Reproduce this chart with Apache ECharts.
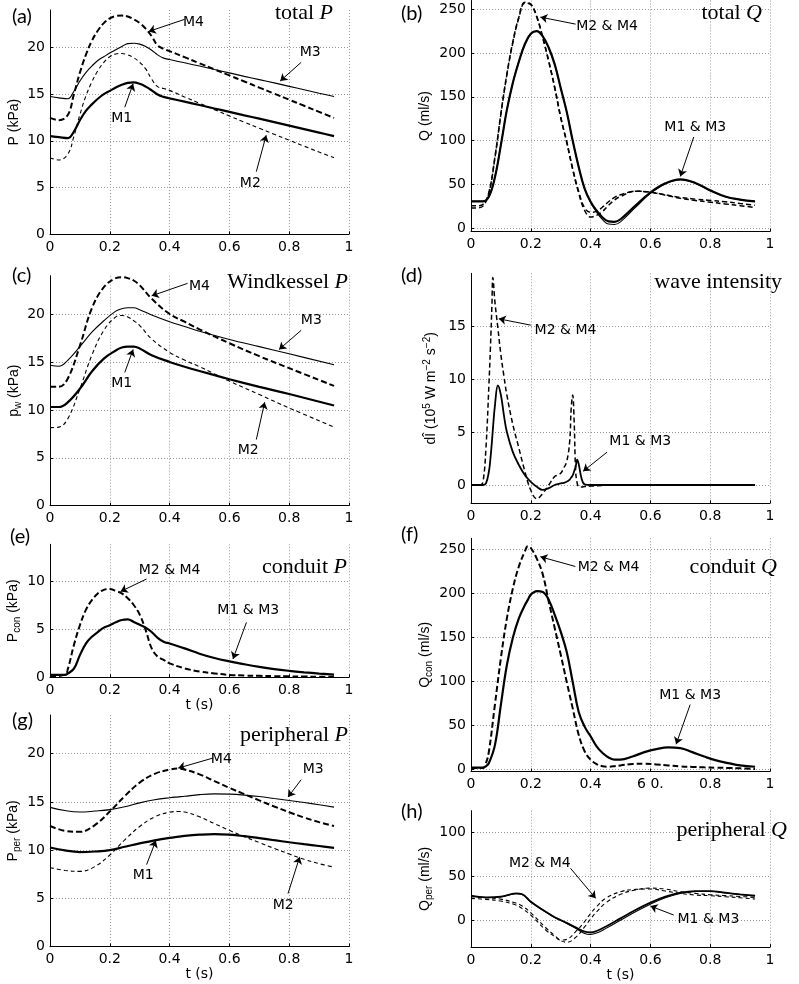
<!DOCTYPE html>
<html><head><meta charset="utf-8">
<script src="https://cdn.jsdelivr.net/npm/echarts@6/dist/echarts.min.js"></script>
<style>html,body{margin:0;padding:0;background:#fff}#c{width:799px;height:984px}</style>
</head><body><div id="c"></div>
<script>
// ---------- tick labels ----------
const xTicks = [0, 0.2, 0.4, 0.6, 0.8, 1];
const xLabels = ['0', '0.2', '0.4', '0.6', '0.8', '1'];
const xLabelsF = ['0', '0.2', '0.4', '6 0.', '0.8', '1'];
const yTicksP = [0, 5, 10, 15, 20];
const yTicksQ = [0, 50, 100, 150, 200, 250];
const yTicksD = [0, 5, 10, 15];
const yTicksE = [0, 5, 10];
const yTicksH = [0, 50, 100];

// ---------- (a) total P ----------
const tA = [0,0.03,0.06,0.08,0.1,0.12,0.14,0.16,0.18,0.2,0.22,0.24,0.26,0.28,0.3,0.32,0.34,0.36,0.38,0.4,0.45,0.5,0.55,0.6,0.65,0.7,0.75,0.8,0.85,0.9,0.95];
const aM1 = [10.5,10.4,10.3,11.0,12.2,13.2,13.9,14.5,15.0,15.35,15.7,16.0,16.2,16.25,16.1,15.8,15.4,14.95,14.7,14.55,14.2,13.83,13.46,13.1,12.73,12.37,12.0,11.63,11.26,10.88,10.5];
const aM2 = [8.2,7.95,8.6,10.5,12.8,14.8,16.3,17.5,18.4,19.0,19.3,19.35,19.2,18.9,18.4,17.7,16.6,15.8,15.6,15.4,14.7,14.02,13.34,12.66,12.0,11.35,10.7,10.06,9.43,8.8,8.2];
const aM3 = [14.75,14.6,14.5,15.3,16.4,17.3,18.0,18.6,19.0,19.4,19.75,20.1,20.4,20.45,20.35,20.1,19.7,19.2,18.85,18.7,18.35,18.0,17.63,17.27,16.9,16.55,16.2,15.83,15.47,15.1,14.75];
const aM4 = [12.45,12.2,12.8,15.0,17.3,19.2,20.7,21.8,22.6,23.1,23.35,23.4,23.3,23.0,22.6,22.0,21.2,20.2,19.85,19.6,18.95,18.3,17.65,17.0,16.35,15.7,15.05,14.4,13.75,13.1,12.45];
const annA = [
  {label:'M4', pos:[0.48,22.7], from:[0.45,23.0], to:[0.33,21.7]},
  {label:'M3', pos:[0.87,19.5], from:[0.84,18.4], to:[0.77,16.4]},
  {label:'M1', pos:[0.24,12.4], from:[0.25,13.6], to:[0.278,16.1]},
  {label:'M2', pos:[0.67,5.5], from:[0.69,6.7], to:[0.723,10.6]}
];

// ---------- (b) total Q ----------
const tB = [0,0.02,0.04,0.06,0.08,0.1,0.12,0.14,0.16,0.18,0.2,0.22,0.24,0.26,0.28,0.3,0.32,0.34,0.36,0.38,0.4,0.42,0.44,0.46,0.48,0.5,0.55,0.6,0.65,0.7,0.75,0.8,0.85,0.9,0.95];
const bM1 = [30.5,30.5,30.5,36,58,95,135,166,190,210,222,225,219,206,187,160,133,100,70,45,30,20,12,7.5,7,10,25.5,40.5,51,55.6,51.5,43,36,32.5,30.5];
const bM3 = [30.5,30.5,30.5,36,58,95,135,166,190,210,222,225,219,206,187,160,133,100,70,45,29,18,9.5,4.5,4,7,23.5,39.5,50.5,55.2,51.2,42.8,35.8,32.3,30.3];
const bM2 = [23,23,25,40,80,130,175,212,240,257,255,241,217,190,160,126,98,67,40,20,12.5,14.5,19,26,32,36,42,41,37.5,34,31.5,29.5,27.5,25.5,23.5];
const bM4 = [25.5,25.5,27,41,81,131,176,213,241,258,256,242,218,191,161,127,99,68,42,23,18,19,24,30,35,38,42,41,38,35,33,31.5,30,28,26];
const annB = [
  {label:'M2 & M4', pos:[0.455,231], from:[0.35,233], to:[0.232,241]},
  {label:'M1 & M3', pos:[0.75,115], from:[0.745,104], to:[0.7,59]}
];

// ---------- (c) Windkessel P ----------
const tC = [0,0.03,0.06,0.1,0.14,0.18,0.22,0.24,0.26,0.28,0.3,0.34,0.4,0.45,0.5,0.6,0.7,0.8,0.95];
const cM1 = [10.3,10.3,10.8,12.2,14.0,15.35,16.2,16.5,16.6,16.6,16.4,15.7,15.0,14.5,14.05,13.2,12.4,11.65,10.45];
const cM2 = [8.15,8.2,9.1,12.2,15.7,18.3,19.7,19.85,19.7,19.3,18.8,17.4,16.0,15.2,14.5,13.0,11.6,10.2,8.2];
const cM3 = [14.65,14.55,15.2,16.6,18.1,19.3,20.3,20.55,20.65,20.65,20.45,19.9,19.2,18.7,18.2,17.35,16.6,15.85,14.7];
const cM4 = [12.4,12.4,13.3,16.7,20.6,22.8,23.75,23.85,23.75,23.5,23.0,21.6,20.0,19.2,18.4,16.95,15.6,14.35,12.5];
const annC = [
  {label:'M4', pos:[0.5,22.9], from:[0.46,23.2], to:[0.34,21.9]},
  {label:'M3', pos:[0.874,19.3], from:[0.84,18.3], to:[0.766,16.3]},
  {label:'M1', pos:[0.24,12.8], from:[0.25,13.9], to:[0.278,16.3]},
  {label:'M2', pos:[0.663,5.8], from:[0.69,6.9], to:[0.718,10.8]}
];

// ---------- (d) wave intensity ----------
const tD = [0,0.03,0.04,0.05,0.06,0.065,0.07,0.073,0.08,0.09,0.1,0.11,0.12,0.14,0.16,0.18,0.2,0.22,0.24,0.26,0.28,0.29,0.3,0.31,0.32,0.33,0.335,0.34,0.345,0.35,0.355,0.36,0.37,0.38,0.4,0.5,0.6,0.7,0.8,0.95];
const dDash = [0,0,0.3,3.5,9.5,13,17,19.6,17.3,14.8,12.3,10.3,8.5,5.7,3.5,1.3,-0.5,-1.3,-0.8,0,0.8,0.94,1.1,1.6,2.2,4.1,7.2,8.5,6,1.3,0.2,-0.15,-0.2,-0.15,-0.1,0,0,0,0,0];
const dSolid = [0,0,0,0.15,1.3,2.5,4.1,5.2,7.5,9.4,8.5,6.6,5.0,3.1,1.9,0.94,0.3,-0.16,-0.47,-0.3,0,0.08,0.15,0.2,0.3,0.5,0.7,0.9,1.3,1.7,2.4,2.0,0.6,0.06,0,0,0,0,0,0];
const annD = [
  {label:'M2 & M4', pos:[0.316,14.65], from:[0.2,15.1], to:[0.093,15.7]},
  {label:'M1 & M3', pos:[0.566,4.1], from:[0.455,3.1], to:[0.375,1.3]}
];

// ---------- (e) conduit P ----------
const tE = [0,0.05,0.06,0.08,0.1,0.12,0.14,0.16,0.18,0.2,0.22,0.24,0.26,0.28,0.3,0.32,0.34,0.36,0.38,0.4,0.45,0.5,0.55,0.6,0.65,0.7,0.75,0.8,0.85,0.9,0.95];
const eSolid = [0.25,0.25,0.4,0.9,2.3,3.5,4.2,4.7,5.15,5.4,5.7,5.95,6.0,5.75,5.45,5.15,4.7,4.1,3.7,3.5,3.0,2.45,2.0,1.65,1.35,1.08,0.85,0.67,0.52,0.39,0.28];
const eDash = [0.1,0.25,0.9,3.35,5.4,7.0,8.0,8.7,9.07,9.17,8.96,8.7,8.2,7.5,6.5,4.9,3.0,2.15,1.8,1.45,0.93,0.6,0.4,0.25,0.18,0.15,0.12,0.1,0.08,0.06,0.05];
const annE = [
  {label:'M2 & M4', pos:[0.4,11.1], from:[0.323,10.2], to:[0.236,8.9]},
  {label:'M1 & M3', pos:[0.663,6.9], from:[0.657,5.7], to:[0.612,1.9]}
];

// ---------- (f) conduit Q ----------
const tF = [0,0.04,0.05,0.06,0.08,0.1,0.12,0.14,0.16,0.18,0.19,0.2,0.22,0.24,0.26,0.28,0.3,0.32,0.34,0.36,0.38,0.4,0.42,0.44,0.46,0.48,0.5,0.54,0.58,0.62,0.66,0.7,0.74,0.78,0.82,0.86,0.9,0.95];
const fSolid = [2.5,2.5,4,7.6,28,74,119,150,172,187,193,199,203,202,193,176,157,134,100,66,49,38,26.5,19,14,11.4,11.4,15,20,23.5,25.4,24.6,20,15,10.6,7.6,4.9,3.4];
const fDash = [2,2,7.6,21,74,127,172,206,231,248,254,252,240,222,191,161,131,100,70,40,21,11.4,6.4,4,3.5,4,4.9,6.5,6.8,6,4.9,3.8,3.2,2.7,2.3,2,1.6,0.8];
const annF = [
  {label:'M2 & M4', pos:[0.46,230], from:[0.349,231], to:[0.232,242]},
  {label:'M1 & M3', pos:[0.733,84.5], from:[0.733,74], to:[0.686,29]}
];

// ---------- (g) peripheral P ----------
const tG = [0,0.05,0.1,0.15,0.2,0.25,0.3,0.35,0.4,0.43,0.45,0.5,0.55,0.6,0.65,0.7,0.75,0.8,0.85,0.9,0.95];
const gM1 = [10.28,9.97,9.8,9.86,10.0,10.35,10.7,11.02,11.28,11.4,11.48,11.6,11.66,11.6,11.45,11.25,11.03,10.82,10.62,10.43,10.24];
const gM2 = [8.2,7.9,7.8,8.3,9.5,11.07,12.45,13.45,13.93,14.0,13.95,13.45,12.75,12.05,11.4,10.78,10.18,9.6,9.05,8.6,8.24];
const gM3 = [14.43,14.1,13.95,14.05,14.2,14.5,14.9,15.22,15.43,15.52,15.58,15.75,15.83,15.8,15.7,15.55,15.35,15.15,14.93,14.7,14.46];
const gM4 = [12.5,12.0,11.9,12.6,14.0,15.6,17.0,17.9,18.35,18.45,18.35,17.85,17.15,16.45,15.8,15.15,14.52,13.93,13.38,12.9,12.5];
const annG = [
  {label:'M4', pos:[0.573,19.4], from:[0.546,19.55], to:[0.429,18.5]},
  {label:'M3', pos:[0.88,18.4], from:[0.84,17.3], to:[0.796,15.5]},
  {label:'M1', pos:[0.312,7.44], from:[0.323,8.5], to:[0.354,11.0]},
  {label:'M2', pos:[0.78,4.3], from:[0.796,5.5], to:[0.835,9.3]}
];

// ---------- (h) peripheral Q ----------
const tH = [0,0.05,0.1,0.15,0.17,0.2,0.25,0.28,0.3,0.32,0.35,0.38,0.4,0.42,0.45,0.5,0.55,0.6,0.65,0.7,0.75,0.8,0.85,0.9,0.95];
const hM1 = [28.4,26.5,27.3,31,30.3,21.6,10.2,4,0.76,-2.5,-7.6,-12.5,-13.3,-11.7,-6.8,2.65,12.1,20.5,27.3,31.8,33.7,33.7,31.8,30,28.4];
const hM3 = [28.0,26.2,27.0,30.6,30.0,21.3,9.8,3.5,0.2,-3.2,-8.6,-14.5,-15.5,-14.0,-9.0,0.5,10.2,18.8,26.0,31.0,33.2,33.4,31.6,29.8,28.2];
const hM2 = [25.4,24.2,22.3,17.8,14,6.4,-10.6,-18,-22,-21.2,-12.5,-1,8.3,16,25.4,33,35.6,36,33.7,31,29.2,28.4,27.3,26.1,24.6];
const hM4 = [27.3,26,24.5,20,17,9,-8,-17,-22.5,-24.5,-19,-7,2,10,20,30,35,37,36,33,31,29.5,28.5,27.5,26.5];
const annH = [
  {label:'M2 & M4', pos:[0.23,65], from:[0.333,59.5], to:[0.417,25.4]},
  {label:'M1 & M3', pos:[0.794,1.5], from:[0.678,6.4], to:[0.6,16.7]}
];

// ---------- styling / layout ----------
const SANS = 'DejaVu Sans';
const NAMEFONT = 'Liberation Sans';
const SERIF = 'Liberation Serif';
const STY = {
  thick: {width: 2.2, type: 'solid'},
  thin: {width: 1.1, type: 'solid'},
  mid: {width: 1.8, type: 'solid'},
  thickDash: {width: 2.0, type: [6, 3]},
  thinDash: {width: 1.1, type: [4, 3]},
  dash: {width: 1.5, type: [5, 3]}
};

const panels = [
  {tag:'(a)', tagTop:7, tagLeft:12, title:'total {i|P}', tRight:466, tTop:2, grid:[50,10,299,224.3], y:[0,24], yTicks:yTicksP,
   yName:'{n|P (kPa)}', yGap:27, xName:'', xl:xLabels, t:tA, lines:[[aM1,'thick'],[aM2,'thinDash'],[aM3,'thin'],[aM4,'thickDash']], ann:annA},
  {tag:'(b)', tagTop:4, tagLeft:401, title:'total {i|Q}', tRight:37, tTop:2, grid:[471,0.5,299,231], y:[-4,260], yTicks:yTicksQ,
   yName:'{n|Q (ml/s)}', yGap:37, xName:'', xl:xLabels, t:tB, lines:[[bM1,'thick'],[bM3,'thin'],[bM2,'dash'],[bM4,'dash']], ann:annB},
  {tag:'(c)', tagTop:266, tagLeft:12, title:'Windkessel {i|P}', tRight:451, tTop:271, grid:[50,275.7,299,230], y:[0,24], yTicks:yTicksP,
   yName:'{n|p}{sub|w}{n| (kPa)}', yGap:27, xName:'', xl:xLabels, t:tC, lines:[[cM1,'thick'],[cM2,'thinDash'],[cM3,'thin'],[cM4,'thickDash']], ann:annC},
  {tag:'(d)', tagTop:266, tagLeft:401, title:'wave intensity', tRight:17, tTop:271, grid:[471,273.3,299,230], y:[-1.73,20], yTicks:yTicksD,
   yName:'{n|dÎ (10}{sup|5}{n| W m}{sup|−2}{n| s}{sup|−2}{n|)}', yGap:31, xName:'', xl:xLabels, t:tD, lines:[[dSolid,'mid'],[dDash,'dash']], ann:annD},
  {tag:'(e)', tagTop:527, tagLeft:10, title:'conduit {i|P}', tRight:452, tTop:556, grid:[50,544.3,299,133], y:[0,13.8], yTicks:yTicksE,
   yName:'{n|P}{sub|con}{n| (kPa)}', yGap:28, xName:'t (s)', xl:xLabels, t:tE, lines:[[eSolid,'thick'],[eDash,'thickDash']], ann:annE},
  {tag:'(f)', tagTop:525, tagLeft:401, title:'conduit {i|Q}', tRight:22, tTop:556, grid:[471,538.3,299,233.2], y:[-2,263], yTicks:yTicksQ,
   yName:'{n|Q}{sub|con}{n| (ml/s)}', yGap:37, xName:'', xl:xLabelsF, t:tF, lines:[[fSolid,'thick'],[fDash,'thickDash']], ann:annF},
  {tag:'(g)', tagTop:711, tagLeft:12, title:'peripheral {i|P}', tRight:451, tTop:724, grid:[50,715,299,231.7], y:[0,24], yTicks:yTicksP,
   yName:'{n|P}{sub|per}{n| (kPa)}', yGap:28, xName:'t (s)', xl:xLabels, t:tG, lines:[[gM1,'thick'],[gM2,'thinDash'],[gM3,'thin'],[gM4,'thickDash']], ann:annG},
  {tag:'(h)', tagTop:802, tagLeft:401, title:'peripheral {i|Q}', tRight:12, tTop:819, grid:[471,810.7,299,136.4], y:[-30,125], yTicks:yTicksH,
   yName:'{n|Q}{sub|per}{n| (ml/s)}', yGap:37, xName:'t (s)', xl:xLabels, t:tH, lines:[[hM1,'mid'],[hM3,'thin'],[hM2,'thinDash'],[hM4,'thinDash']], ann:annH}
];

const option = {animation: false, backgroundColor: '#fff', grid: [], xAxis: [], yAxis: [], series: [], title: []};
const dotted = {show: true, lineStyle: {color: '#9a9a9a', width: 1, type: [1, 2]}};

panels.forEach((p, i) => {
  option.grid.push({left: p.grid[0], top: p.grid[1], width: p.grid[2], height: p.grid[3], containLabel: false, outerBoundsMode: 'none'});
  const xl = p.xl;
  option.xAxis.push({
    type: 'value', gridIndex: i, min: 0, max: 1, interval: 0.2,
    axisLine: {show: true, onZero: false, lineStyle: {color: '#000', width: 1}},
    axisTick: {show: true, inside: true, length: 3, lineStyle: {color: '#000'}},
    axisLabel: {margin: 6, color: '#000', fontFamily: SANS, fontSize: 14,
      formatter: v => { const k = xTicks.findIndex(x => Math.abs(x - v) < 1e-6); return k >= 0 ? xl[k] : ''; }},
    splitLine: dotted,
    name: p.xName, nameLocation: 'middle', nameGap: 21,
    nameTextStyle: {color: '#000', fontFamily: SANS, fontSize: 14}
  });
  option.yAxis.push({
    type: 'value', gridIndex: i, min: p.y[0], max: p.y[1],
    axisLine: {show: true, onZero: false, lineStyle: {color: '#000', width: 1}},
    axisTick: {show: true, inside: true, length: 3, customValues: p.yTicks, lineStyle: {color: '#000'}},
    axisLabel: {margin: 5, color: '#000', fontFamily: SANS, fontSize: 14, customValues: p.yTicks},
    splitLine: dotted,
    name: p.yName, nameLocation: 'middle', nameGap: p.yGap, nameRotate: 90,
    nameTextStyle: {color: '#000', fontFamily: NAMEFONT, fontSize: 14,
      rich: {
        n: {fontFamily: NAMEFONT, fontSize: 14, color: '#000', lineHeight: 18},
        sub: {fontFamily: NAMEFONT, fontSize: 10, color: '#000', verticalAlign: 'bottom', lineHeight: 18},
        sup: {fontFamily: NAMEFONT, fontSize: 10, color: '#000', verticalAlign: 'top', lineHeight: 18}
      }}
  });
  p.lines.forEach((ln, k) => {
    const s = {
      type: 'line', xAxisIndex: i, yAxisIndex: i, showSymbol: false, symbol: 'none',
      smooth: 0.4, silent: true,
      lineStyle: Object.assign({color: '#000'}, STY[ln[1]]),
      data: p.t.map((t, j) => [t, ln[0][j]])
    };
    if (k === 0) {
      s.markLine = {
        silent: true, symbol: ['none', 'arrow'], symbolSize: 7, animation: false,
        label: {show: false}, lineStyle: {color: '#000', width: 1, type: 'solid'},
        emphasis: {disabled: true},
        data: p.ann.map(a => [{coord: a.from}, {coord: a.to}])
      };
      s.markPoint = {
        silent: true, symbol: 'rect', symbolSize: 1, animation: false,
        itemStyle: {color: 'rgba(0,0,0,0)'},
        label: {show: true, position: 'inside', color: '#000', fontFamily: SANS, fontSize: 14, formatter: q => q.name},
        data: p.ann.map(a => ({name: a.label, coord: a.pos}))
      };
    }
    option.series.push(s);
  });
  option.title.push({
    text: p.tag, left: p.tagLeft, top: p.tagTop, padding: 0,
    textStyle: {fontFamily: 'Lato', fontSize: 20, lineHeight: 20, fontWeight: 'normal', color: '#000'}
  });
  option.title.push({
    text: p.title, right: p.tRight, top: p.tTop, padding: 0,
    textStyle: {fontFamily: SERIF, fontSize: 22, lineHeight: 22, fontWeight: 'normal', color: '#000',
      rich: {i: {fontFamily: SERIF, fontSize: 22, lineHeight: 22, fontStyle: 'italic', color: '#000'}}}
  });
});

const chart = echarts.init(document.getElementById('c'), null, {renderer: 'canvas'});
chart.setOption(option);
</script></body></html>
